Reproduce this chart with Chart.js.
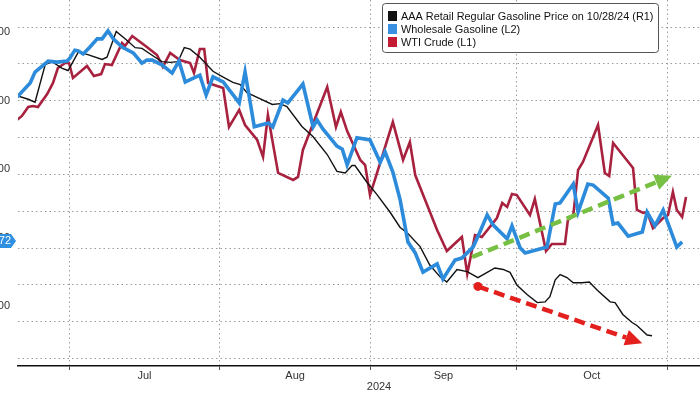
<!DOCTYPE html>
<html><head><meta charset="utf-8">
<script src="https://cdn.jsdelivr.net/npm/chart.js@4/dist/chart.umd.min.js"></script>
<style>
html,body{margin:0;padding:0;background:#fff;overflow:hidden;width:700px;height:394px;}
#wrap{position:absolute;left:-40px;top:0;width:800px;height:394px;}
</style></head>
<body><div id="wrap"><canvas id="c" width="800" height="394"></canvas></div>
<script>
// x values are days since 2024-07-01
const monthStarts = [0, 31, 62, 92, 123];
const monthMids = [15.5, 46.5, 77, 107.5];
const monthLabels = ['Jul', 'Aug', 'Sep', 'Oct'];
const yearLabel = '2024';

const retailLabel = 'AAA Retail Regular Gasoline Price on 10/28/24 (R1)';
const wholesaleLabel = 'Wholesale Gasoline (L2)';
const wtiLabel = 'WTI Crude (L1)';

const retailDay = [-10.7,-8.4,-7.0,-4.9,-3.5,-1.4,-0.2,1.9,3.7,6.8,7.8,9.7,11.7,13.6,15.0,17.7,19.1,20.8,22.4,23.7,24.9,26.9,29.6,31.7,33.7,35.2,36.6,38.9,41.8,43.4,44.8,47.9,50.2,53.1,55.1,56.8,58.2,58.8,61.3,63.3,66.0,68.1,69.5,72.2,74.2,76.3,77.7,79.8,81.9,84.1,86.0,87.6,89.3,90.7,92.1,94.2,96.3,97.9,98.9,100.0,101.0,102.4,103.7,105.5,107.0,108.6,111.3,112.3,113.9,115.8,116.8,118.9,119.9];
const retail = [3.407,3.402,3.398,3.449,3.453,3.444,3.441,3.466,3.463,3.456,3.459,3.494,3.483,3.472,3.471,3.459,3.453,3.452,3.453,3.472,3.470,3.459,3.440,3.432,3.425,3.422,3.411,3.404,3.395,3.396,3.392,3.365,3.351,3.327,3.304,3.302,3.312,3.312,3.289,3.273,3.249,3.228,3.221,3.202,3.177,3.161,3.154,3.171,3.168,3.160,3.167,3.173,3.171,3.167,3.150,3.137,3.126,3.127,3.134,3.157,3.164,3.160,3.153,3.153,3.154,3.143,3.127,3.126,3.110,3.099,3.095,3.082,3.081];

const wholesaleDay = [-10.7,-8.0,-7.0,-4.3,-2.5,-0.4,0.2,1.2,1.9,2.9,4.3,5.8,6.8,8.0,9.1,10.9,13.2,15.0,16.0,17.1,19.1,21.2,22.6,23.9,26.9,28.2,29.6,31.7,35.0,36.2,38.1,41.0,41.9,44.0,45.0,48.1,50.2,51.0,52.2,55.1,56.2,57.2,59.2,61.9,64.0,65.0,66.6,68.1,69.7,71.2,72.8,75.7,76.9,79.4,80.8,83.1,84.5,86.0,87.2,90.1,91.1,92.8,93.8,98.3,100.0,101.0,103.7,104.7,106.7,107.8,110.9,111.9,112.9,115.0,117.9,118.9,120.5,122.2,125.0,126.1];
const wholesale = [2.410,2.451,2.483,2.515,2.512,2.515,2.524,2.547,2.545,2.536,2.556,2.580,2.580,2.603,2.580,2.556,2.539,2.509,2.518,2.518,2.504,2.480,2.515,2.454,2.474,2.416,2.469,2.454,2.393,2.483,2.323,2.334,2.323,2.401,2.393,2.448,2.323,2.343,2.317,2.267,2.258,2.212,2.291,2.285,2.220,2.250,2.191,2.110,1.987,1.955,1.899,1.923,1.879,1.934,1.940,1.972,2.016,2.066,2.037,1.996,2.034,1.969,1.955,1.972,2.098,2.101,2.156,2.074,2.156,2.153,2.115,2.039,2.042,2.004,2.016,2.074,2.034,2.080,1.972,1.9872];

const wtiDay = [-10.7,-9.7,-8.4,-7.4,-6.4,-4.5,-3.3,-2.3,-0.8,0.0,0.8,3.7,5.1,6.6,7.4,8.8,10.9,11.5,13.0,16.0,18.1,19.3,20.8,22.8,24.9,25.7,26.9,27.8,28.6,31.7,32.9,35.0,36.2,38.7,39.9,40.9,43.0,46.1,47.1,48.1,53.1,54.9,55.9,57.2,59.9,60.9,61.9,62.9,66.6,68.7,70.1,71.2,75.7,77.7,80.8,81.9,83.5,84.9,88.0,89.1,90.1,91.1,92.1,94.8,95.8,98.1,99.3,102.0,102.6,103.7,104.7,105.7,108.8,110.2,111.1,111.9,116.0,116.8,118.1,118.9,120.1,122.2,123.2,124.2,125.0,126.1,126.9];
const wti = [78.58,78.87,79.53,79.60,79.53,80.47,81.28,82.37,82.74,82.74,81.64,82.52,81.79,81.93,82.66,82.59,84.20,83.98,84.71,83.91,83.32,82.45,83.47,82.96,82.74,82.01,83.76,83.76,81.28,80.91,78.07,79.31,78.21,77.12,75.88,78.94,74.71,74.20,74.42,76.39,80.99,78.07,79.16,77.77,75.66,75.29,73.10,74.20,78.43,75.66,76.97,74.56,70.55,69.01,70.04,67.34,70.18,70.04,71.42,72.52,72.23,73.18,73.10,71.64,72.81,69.01,69.53,69.53,71.28,71.57,74.93,75.51,78.21,74.71,74.49,76.90,75.07,72.01,71.79,71.86,70.69,71.42,71.64,73.32,72.01,71.50,72.96];

// annotation arrows: [startDay, startValue, endDay, endValue]
const greenArrow = [82.9, 1.943, 124.0, 2.180];   // on Wholesale (L2) scale
const redArrow = [84.1, 3.148, 117.9, 3.071];     // on Retail (R1) scale

const zip = (xs, ys) => xs.map((x, i) => ({x: x, y: ys[i]}));
const FONT = "'Liberation Sans', Arial, sans-serif";
const GRID = '#9c9c9c';
const DOTS = [1.5, 3];

const overlay = {
  id: 'overlay',
  afterDatasetsDraw(chart) {
    const ctx = chart.ctx;
    const xs = chart.scales.x, yL2 = chart.scales.yL2, yR = chart.scales.yR;
    const arrow = (a, ys, color, dot) => {
      const x1 = xs.getPixelForValue(a[0]), y1 = ys.getPixelForValue(a[1]);
      const x2 = xs.getPixelForValue(a[2]), y2 = ys.getPixelForValue(a[3]);
      const ang = Math.atan2(y2 - y1, x2 - x1);
      const hl = 17, hw = 8;
      const bx = x2 - hl * Math.cos(ang), by = y2 - hl * Math.sin(ang);
      ctx.save();
      ctx.strokeStyle = color; ctx.fillStyle = color;
      ctx.lineWidth = 4.5; ctx.setLineDash([11, 6]);
      ctx.beginPath(); ctx.moveTo(x1, y1); ctx.lineTo(bx, by); ctx.stroke();
      ctx.setLineDash([]);
      ctx.beginPath();
      ctx.moveTo(x2, y2);
      ctx.lineTo(bx + hw * Math.sin(ang), by - hw * Math.cos(ang));
      ctx.lineTo(bx - hw * Math.sin(ang), by + hw * Math.cos(ang));
      ctx.closePath(); ctx.fill();
      if (dot) { ctx.beginPath(); ctx.arc(x1, y1, 4.5, 0, Math.PI * 2); ctx.fill(); }
      ctx.restore();
    };
    arrow(greenArrow, yL2, '#78c043', false);
    arrow(redArrow, yR, '#e3201d', true);
  },
  afterDraw(chart) {
    const ctx = chart.ctx;
    // legend box
    const bx = 422, by = 3, bw = 276, bh = 49;
    ctx.save();
    ctx.fillStyle = '#fff'; ctx.strokeStyle = '#555'; ctx.lineWidth = 1;
    ctx.beginPath(); ctx.roundRect(bx + 0.5, by + 0.5, bw, bh, 3); ctx.fill(); ctx.stroke();
    const items = [[retailLabel, '#111111'], [wholesaleLabel, '#3a8fe0'], [wtiLabel, '#c41a32']];
    ctx.font = '10.9px ' + FONT; ctx.textBaseline = 'middle'; ctx.textAlign = 'left';
    items.forEach((it, i) => {
      const cy = 16 + i * 13;
      ctx.fillStyle = it[1]; ctx.fillRect(bx + 6, cy - 5, 9, 10);
      ctx.fillStyle = '#111'; ctx.fillText(it[0], bx + 19, cy + 0.5);
    });
    // last-value tag for wholesale gasoline
    const yL2 = chart.scales.yL2;
    const last = wholesale[wholesale.length - 1];
    const ty = yL2.getPixelForValue(last) - 1;
    ctx.fillStyle = '#2f8fe0';
    ctx.beginPath();
    ctx.moveTo(8, ty - 7); ctx.lineTo(51, ty - 7); ctx.lineTo(56, ty); ctx.lineTo(51, ty + 7); ctx.lineTo(8, ty + 7);
    ctx.closePath(); ctx.fill();
    ctx.fillStyle = '#fff'; ctx.font = '11px ' + FONT; ctx.textAlign = 'right';
    ctx.fillText(last.toFixed(4), 51, ty + 0.5);
    ctx.restore();
  }
};

const isStart = v => monthStarts.some(m => Math.abs(m - v) < 1e-6);
const noPadV = s => { s.paddingTop = 0; s.paddingBottom = 0; };

new Chart(document.getElementById('c'), {
  type: 'line',
  data: {
    datasets: [
      {label: retailLabel, data: zip(retailDay, retail), yAxisID: 'yR', borderColor: '#111', borderWidth: 1.4, pointRadius: 0, order: 1},
      {label: wholesaleLabel, data: zip(wholesaleDay, wholesale), yAxisID: 'yL2', borderColor: '#2d8bdb', borderWidth: 3.6, pointRadius: 0, order: 0},
      {label: wtiLabel, data: zip(wtiDay, wti), yAxisID: 'yL1', borderColor: '#a8223f', borderWidth: 2.6, pointRadius: 0, order: 2}
    ]
  },
  options: {
    responsive: false, animation: false, devicePixelRatio: 1,
    layout: {padding: 0},
    plugins: {legend: {display: false}, tooltip: {enabled: false}},
    scales: {
      x: {
        type: 'linear', position: 'bottom', min: -10.5, max: 138,
        afterBuildTicks: s => { s.ticks = monthStarts.concat(monthMids).sort((a, b) => a - b).map(v => ({value: v})); },
        afterFit: s => { s.height = 28; s.paddingLeft = 0; s.paddingRight = 0; },
        ticks: {
          autoSkip: false, maxRotation: 0, padding: -1, color: '#333', font: {family: FONT, size: 11},
          callback: v => { const i = monthMids.indexOf(v); return i >= 0 ? monthLabels[i] : ''; }
        },
        grid: {
          color: c => (c.tick && isStart(c.tick.value)) ? GRID : 'rgba(0,0,0,0)',
          tickColor: c => (c.tick && isStart(c.tick.value)) ? '#555' : 'rgba(0,0,0,0)',
          tickLength: 4, lineWidth: 1
        },
        border: {display: true, color: '#111', width: 1.5, dash: DOTS},
        title: {display: true, text: yearLabel, color: '#333', font: {family: FONT, size: 11}, padding: {top: 0, bottom: 0}}
      },
      yL2: {
        type: 'linear', position: 'left', min: 1.6248, max: 2.6934,
        afterFit: s => { s.width = 58; noPadV(s); },
        ticks: {stepSize: 0.2, includeBounds: false, padding: 8, color: '#333', font: {family: FONT, size: 11}, callback: v => v.toFixed(4)},
        grid: {display: false, drawTicks: false},
        border: {display: false}
      },
      yL1: {type: 'linear', display: false, min: 60.62, max: 87.336, afterFit: noPadV},
      yR: {
        type: 'linear', position: 'right', min: 3.04, max: 3.5367,
        afterFit: s => { s.width = 20; noPadV(s); },
        ticks: {display: false, stepSize: 0.05, includeBounds: false},
        grid: {color: GRID, lineWidth: 1, drawTicks: false},
        border: {display: false, dash: DOTS}
      }
    }
  },
  plugins: [overlay]
});
</script>
</body></html>
